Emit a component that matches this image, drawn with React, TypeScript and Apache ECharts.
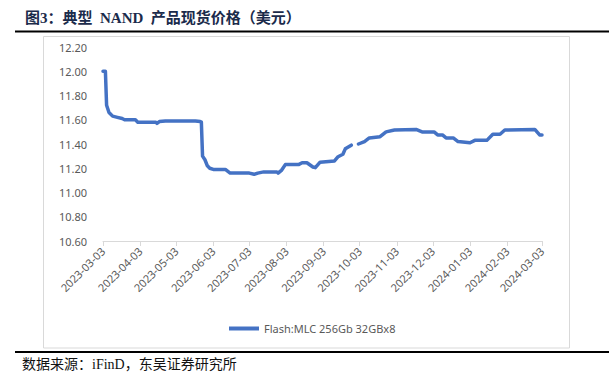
import React, { useEffect, useRef } from 'react';
import * as echarts from 'echarts';

const startDate = '2023-03-03';
const endDate = '2024-03-03';
const seriesName = 'Flash:MLC 256Gb 32GBx8';
const titleText = '图3：典型  NAND  产品现货价格（美元）';
const sourceText = '数据来源：iFinD，东吴证券研究所';

const yMin = 10.6;
const yMax = 12.2;
const yStep = 0.2;

const priceDates = [
  '2023-03-03', '2023-03-05', '2023-03-06', '2023-03-08', '2023-03-11', '2023-03-15',
  '2023-03-19', '2023-03-21', '2023-03-30', '2023-04-01', '2023-04-16', '2023-04-17',
  '2023-04-19', '2023-04-24', '2023-05-19', '2023-05-23', '2023-05-24', '2023-05-25',
  '2023-05-27', '2023-05-29', '2023-05-31', '2023-06-03', '2023-06-13', '2023-06-17',
  '2023-07-03', '2023-07-07', '2023-07-10', '2023-07-15', '2023-07-26', '2023-07-27',
  '2023-07-30', '2023-08-02', '2023-08-13', '2023-08-16', '2023-08-20', '2023-08-25',
  '2023-08-27', '2023-08-31', '2023-09-12', '2023-09-15', '2023-09-19', '2023-09-21',
  '2023-09-26', '2023-09-29', '2023-10-02', '2023-10-07', '2023-10-11', '2023-10-20',
  '2023-10-25', '2023-11-01', '2023-11-19', '2023-11-24', '2023-12-04', '2023-12-07',
  '2023-12-11', '2023-12-14', '2023-12-20', '2023-12-24', '2024-01-03', '2024-01-07',
  '2024-01-17', '2024-01-22', '2024-01-28', '2024-02-01', '2024-02-26', '2024-03-01',
  '2024-03-03',
];

const priceValues: (number | null)[] = [
  12.0, 12.0, 11.72, 11.66, 11.63, 11.62,
  11.61, 11.6, 11.6, 11.58, 11.58, 11.57,
  11.585, 11.59, 11.59, 11.585, 11.58, 11.3,
  11.27, 11.22, 11.2, 11.19, 11.19, 11.16,
  11.16, 11.15, 11.16, 11.17, 11.17, 11.16,
  11.185, 11.23, 11.23, 11.245, 11.245, 11.21,
  11.205, 11.25, 11.26, 11.295, 11.315, 11.36,
  11.39, null, 11.4, 11.42, 11.45, 11.46,
  11.5, 11.515, 11.52, 11.5, 11.5, 11.475,
  11.475, 11.45, 11.45, 11.42, 11.41, 11.43,
  11.43, 11.48, 11.48, 11.515, 11.52, 11.475,
  11.475,
];

function buildDays(start: string, end: string): string[] {
  const out: string[] = [];
  let t = Date.parse(start + 'T00:00:00Z');
  const e = Date.parse(end + 'T00:00:00Z');
  while (t <= e) {
    out.push(new Date(t).toISOString().slice(0, 10));
    t += 86400000;
  }
  return out;
}

export default function App() {
  const ref = useRef<HTMLDivElement>(null);

  useEffect(() => {
    if (!ref.current) return;
    const chart = echarts.init(ref.current, undefined, { renderer: 'svg' });
    const days = buildDays(startDate, endDate);
    const showTick = (_i: number, v: string) => v.slice(8, 10) === '03';
    const cjkSerif = '"Liberation Serif", "Noto Sans CJK SC", serif';

    chart.setOption({
      animation: false,
      backgroundColor: '#ffffff',
      grid: { left: 103, right: 67, top: 47, bottom: 133 },
      legend: {
        left: 224,
        top: 318,
        icon: 'rect',
        itemWidth: 30,
        itemHeight: 4,
        textStyle: { color: '#595959', fontSize: 11, fontFamily: '"Noto Sans", sans-serif' },
        data: [seriesName],
      },
      xAxis: {
        type: 'category',
        data: days,
        boundaryGap: false,
        axisLine: { lineStyle: { color: '#d9d9d9', width: 1 } },
        axisTick: { interval: showTick, length: 5, lineStyle: { color: '#d9d9d9' } },
        axisLabel: {
          interval: showTick,
          rotate: 45,
          margin: 8,
          color: '#595959',
          fontSize: 11,
          fontFamily: '"Noto Sans", sans-serif',
        },
        splitLine: { show: false },
      },
      yAxis: {
        type: 'value',
        min: yMin,
        max: yMax,
        interval: yStep,
        axisLine: { show: false },
        axisTick: { show: false },
        splitLine: { show: false },
        axisLabel: {
          formatter: (v: number) => v.toFixed(2),
          color: '#595959',
          fontSize: 11,
          margin: 16,
          fontFamily: '"Noto Sans", sans-serif',
        },
      },
      series: [
        {
          name: seriesName,
          type: 'line',
          data: priceDates.map((d, i) => [d, priceValues[i] === null ? '-' : priceValues[i]]),
          showSymbol: false,
          symbol: 'none',
          connectNulls: false,
          lineStyle: { color: '#4472c4', width: 3.5, cap: 'round', join: 'round' },
          itemStyle: { color: '#4472c4' },
        },
      ],
      graphic: [
        {
          type: 'text',
          x: 25,
          y: 18,
          style: {
            text: titleText,
            fontSize: 15,
            fontWeight: 'bold',
            fontFamily: cjkSerif,
            fill: '#1b2b4b',
            verticalAlign: 'middle',
          },
        },
        {
          type: 'rect',
          shape: { x: 15, y: 30.5, width: 594, height: 2 },
          style: { fill: '#000000' },
        },
        {
          type: 'rect',
          shape: { x: 43.5, y: 36.5, width: 526, height: 311.5 },
          style: { fill: 'none', stroke: '#d9d9d9', lineWidth: 1 },
        },
        {
          type: 'rect',
          shape: { x: 15, y: 351, width: 594, height: 2 },
          style: { fill: '#000000' },
        },
        {
          type: 'text',
          x: 22,
          y: 364,
          style: {
            text: sourceText,
            fontSize: 14,
            fontFamily: cjkSerif,
            fill: '#111111',
            verticalAlign: 'middle',
          },
        },
      ],
    });
    return () => chart.dispose();
  }, []);

  return (
    <div
      ref={ref}
      style={{ position: 'absolute', left: 0, top: 0, width: 609, height: 374 }}
    />
  );
}
